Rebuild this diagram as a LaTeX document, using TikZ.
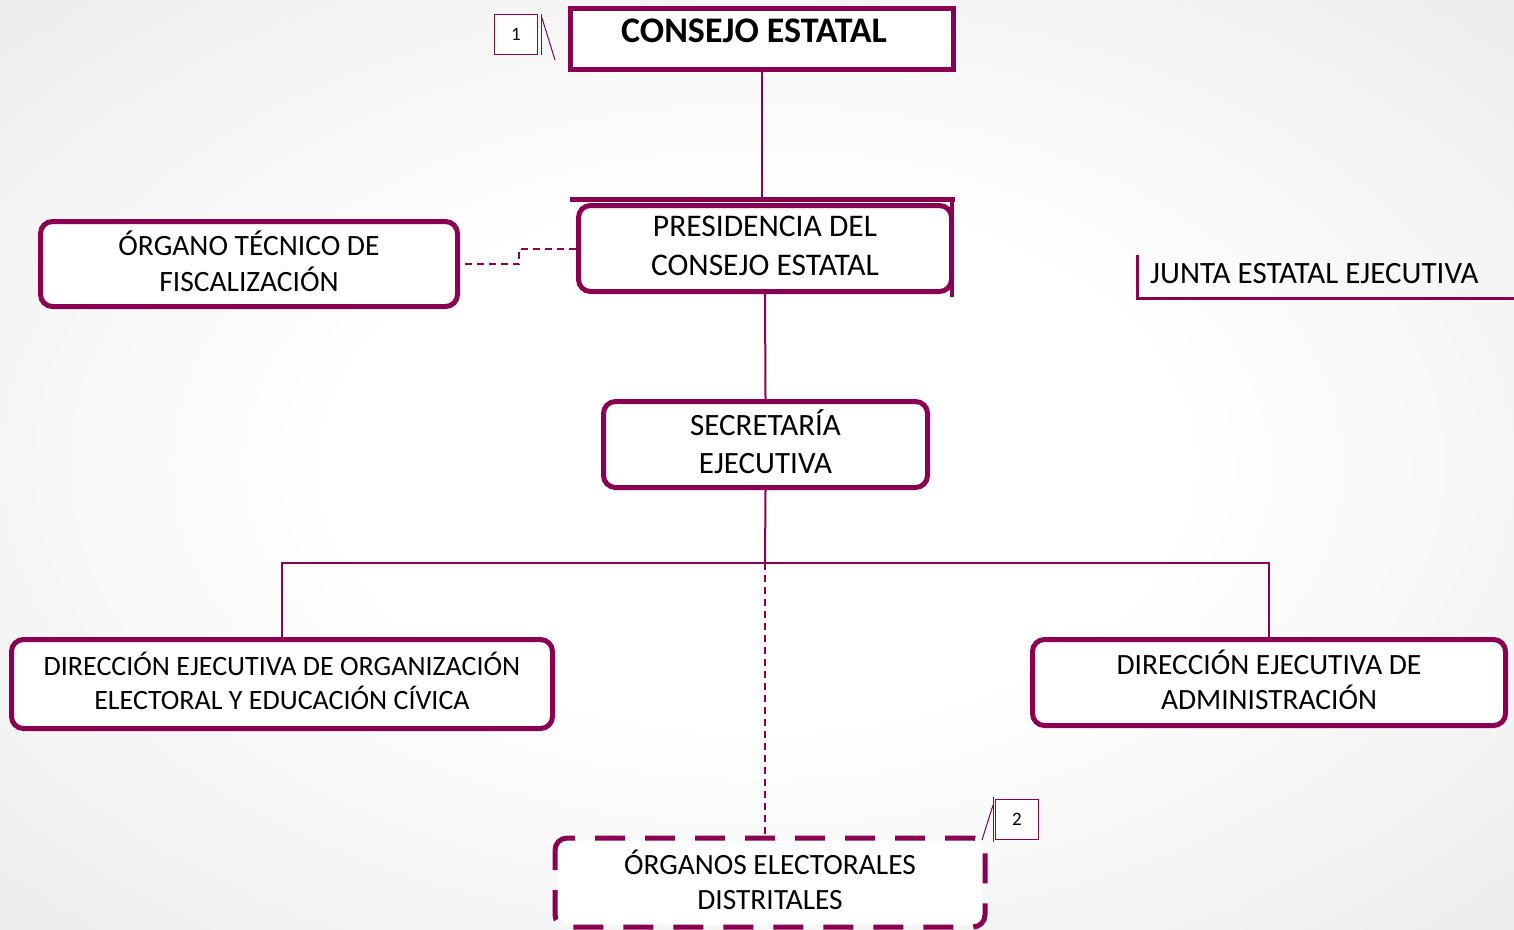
\documentclass[tikz,border=0pt]{standalone}
\usepackage{fontspec}
\setmainfont{Carlito}
\usetikzlibrary{calc}
\definecolor{mar}{HTML}{8A0050}
\definecolor{bggray}{HTML}{E0E0E3}
\pgfdeclareradialshading{bgshade}{\pgfpoint{0bp}{0bp}}{color(0bp)=(white); color(14bp)=(white); color(50bp)=(bggray); color(75bp)=(bggray)}
\tikzset{
  box/.style={draw=mar, line width=5pt, fill=white, rounded corners=12pt, align=center, inner sep=0pt, text depth=6pt, font=\fontsize{31}{37}\selectfont},
  conn/.style={draw=mar, line width=2pt},
  dconn/.style={conn, dash pattern=on 7pt off 5pt},
  callout/.style={draw=mar, line width=1pt, fill=white, minimum width=43pt, minimum height=40pt, inner sep=0pt, font=\fontsize{19}{19}\selectfont},
  thin/.style={draw=mar, line width=1pt}
}
\begin{document}
\begin{tikzpicture}[x=1pt,y=-1pt]
\useasboundingbox (0,0) rectangle (1514,929);
\shade[shading=bgshade] (0,0) rectangle (1514,929);

% nodes
\node[box, rounded corners=0pt, text depth=0pt, minimum width=383pt, minimum height=61pt, font=\fontsize{36}{40}\selectfont\bfseries] (consejo) at (762,39) {\raisebox{8pt}[\height][\depth]{CONSEJO ESTATAL}\hspace*{16pt}};
\node[box, minimum width=373pt, minimum height=86pt, font=\fontsize{31.5}{39}\selectfont] (pres) at (765,248.5) {PRESIDENCIA DEL\\CONSEJO ESTATAL};
\node[box, minimum width=417pt, minimum height=85pt, font=\fontsize{29.5}{36}\selectfont] (organo) at (249,264) {ÓRGANO TÉCNICO DE\\FISCALIZACIÓN};
\node[box, minimum width=324pt, minimum height=86pt, font=\fontsize{31}{38}\selectfont] (secre) at (765.5,444.5) {SECRETARÍA\\EJECUTIVA};
\node[box, minimum width=541pt, minimum height=89pt, font=\fontsize{28}{34}\selectfont] (deo) at (282,684) {DIRECCIÓN EJECUTIVA DE ORGANIZACIÓN\\ELECTORAL Y EDUCACIÓN CÍVICA};
\node[box, minimum width=473pt, minimum height=86pt, font=\fontsize{29.4}{35}\selectfont] (dea) at (1269,682.5) {DIRECCIÓN EJECUTIVA DE\\ADMINISTRACIÓN};
\node[box, draw=none, minimum width=425pt, minimum height=84pt, font=\fontsize{29.4}{35}\selectfont] (oed) at (770,882.5) {ÓRGANOS ELECTORALES\\DISTRITALES};
\draw[mar, line width=5pt, rounded corners=12pt, dash pattern=on 30pt off 20pt, dash phase=10pt] (oed.north west) rectangle (oed.south east);

% presidencia extra bars
\coordinate (presbar) at (762,199);
\draw[mar, line width=5pt] (570,199) -- (955,199);
\draw[mar, line width=4pt] (952,199) -- (952,297);

% junta
\node[anchor=west, inner sep=0pt, font=\fontsize{31}{36}\selectfont] (junta) at (1150,274) {JUNTA ESTATAL EJECUTIVA};
\draw[mar, line width=3pt] (1137,255) -- (1137,298) -- (1514,298);

% callouts
\node[callout] (c1) at (516,34) {1};
\draw[thin] (541,14) -- (541,55);
\draw[thin] (542,18) -- (555,60);
\node[callout] (c2) at (1017,819.5) {2};
\draw[thin] (993,797) -- (993,842);
\draw[thin] (993,805) -- (982,840);

% connectors
\draw[conn] (consejo.south) -- (consejo.south |- presbar);
\draw[conn] (pres.south) -- (secre.north);
\coordinate (split) at (765,563);
\draw[conn] (secre.south) -- (split);
\draw[conn] (deo.north) |- (split) -| (dea.north);
\draw[dconn] (split) -- (split |- oed.north);
\draw[dconn] (pres.west) -- ++(-57,0) |- (organo.east);
\end{tikzpicture}
\end{document}
